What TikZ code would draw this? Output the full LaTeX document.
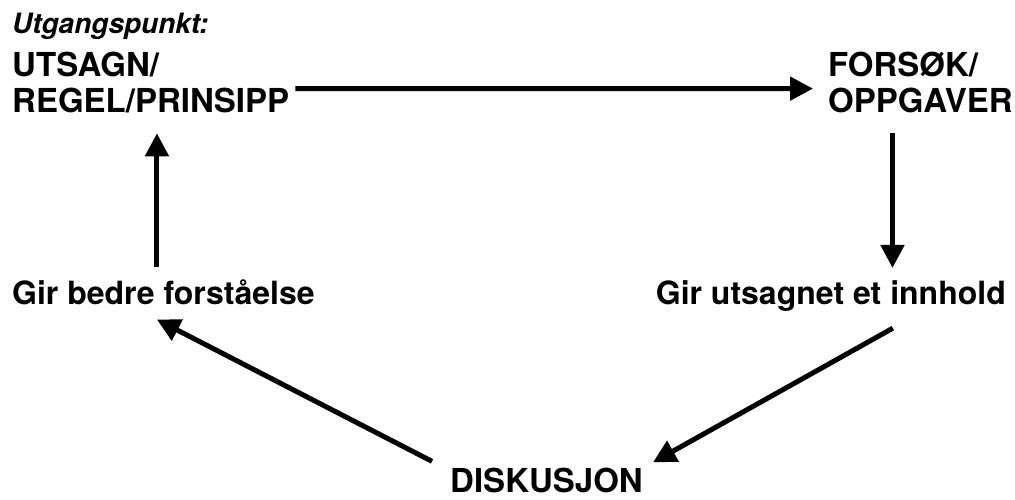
\documentclass[tikz,border=0pt]{standalone}
\usepackage{fontspec}
\setmainfont{TeX Gyre Heros}
\usetikzlibrary{arrows.meta}
\tikzset{
  lbl/.style={inner sep=0pt, font=\fontsize{32}{36}\selectfont\bfseries},
  capslbl/.style={inner sep=0pt, font=\fontsize{33}{36}\selectfont\bfseries},
  lblsmall/.style={inner sep=0pt, font=\fontsize{28}{32}\selectfont\bfseries\itshape},
  arr/.style={line width=5pt, -{Triangle[length=23pt,width=23pt]}},
}
\begin{document}
\begin{tikzpicture}[x=1pt,y=-1pt]
\useasboundingbox (0,0) rectangle (1015,499);
\node[lblsmall, anchor=base west] (start) at (12,33) {Utgangspunkt:};
\node[capslbl, anchor=north west, align=left] (rule) at (12,52) {UTSAGN/\\REGEL/PRINSIPP};
\node[capslbl, anchor=north west, align=left] (task) at (828,52) {FORSØK/\\OPPGAVER};
\node[lbl, anchor=base east] (content) at (1006,304) {Gir utsagnet et innhold};
\node[lbl, anchor=base west] (understand) at (12,304) {Gir bedre forståelse};
\node[capslbl, anchor=base] (disc) at (546.5,492) {DISKUSJON};
\draw[arr] ([xshift=6pt,yshift=-6pt]rule.east) -- ([xshift=-15pt,yshift=-6pt]task.west);
\draw[arr] ([xshift=-28pt,yshift=-20pt]task.south) -- ([xshift=-28pt,yshift=12pt]task.south |- content.north);
\draw[arr] ([xshift=62pt,yshift=-17pt]content.south) -- ([xshift=10pt,yshift=5pt]disc.north east);
\draw[arr] ([xshift=-18pt,yshift=6pt]disc.north west) -- ([xshift=-6.5pt,yshift=-15pt]understand.south);
\draw[arr] ([xshift=-6.5pt,yshift=12pt]understand.north) -- ([xshift=-6.5pt,yshift=-20pt]understand.north |- rule.south);
\end{tikzpicture}
\end{document}
